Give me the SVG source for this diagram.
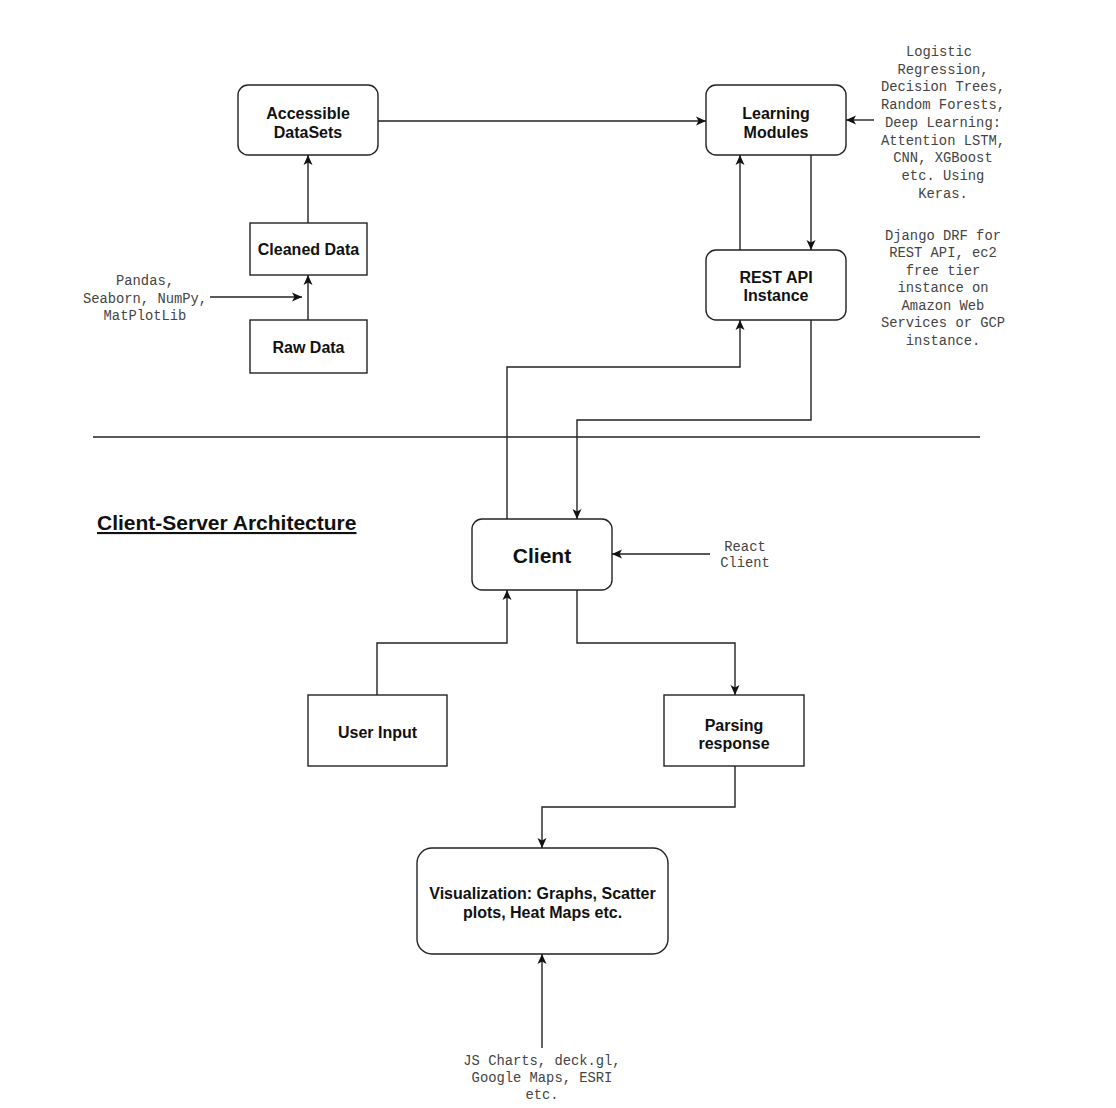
<svg xmlns="http://www.w3.org/2000/svg" width="1116" height="1108" viewBox="0 0 1116 1108">
<style>
.box{fill:#fff;stroke:#222;stroke-width:1.4}
.lbl{font-family:"Liberation Sans",Arial,sans-serif;font-weight:bold;font-size:16px;fill:#111;text-anchor:middle}
.mono{font-family:"Liberation Mono","Courier New",monospace;font-size:13.8px;fill:#444;text-anchor:middle}
.edge{fill:none;stroke:#222;stroke-width:1.4}
</style>
<defs>
<marker id="arr" viewBox="0 0 12 12" refX="11" refY="6" markerWidth="12" markerHeight="12" markerUnits="userSpaceOnUse" orient="auto">
<path d="M1,1.5 L11,6 L1,10.5 L3.5,6 z" fill="#111"/>
</marker>
</defs>
<rect width="1116" height="1108" fill="#fff"/>

<g id="accessible">
<rect class="box" x="238" y="85" width="140" height="70" rx="10"/>
<text class="lbl" x="308" y="119">Accessible</text>
<text class="lbl" x="308" y="138">DataSets</text>
</g>
<g id="cleaned">
<rect class="box" x="250" y="223" width="117" height="52"/>
<text class="lbl" x="308.5" y="255">Cleaned Data</text>
</g>
<g id="raw">
<rect class="box" x="250" y="320" width="117" height="53"/>
<text class="lbl" x="308.5" y="353">Raw Data</text>
</g>
<g id="pandas">
<text class="mono" x="145" y="285">Pandas,</text>
<text class="mono" x="145" y="302.6">Seaborn, NumPy,</text>
<text class="mono" x="145" y="320.2">MatPlotLib</text>
</g>
<g id="learning">
<rect class="box" x="706" y="85" width="140" height="70" rx="10"/>
<text class="lbl" x="776" y="119">Learning</text>
<text class="lbl" x="776" y="138">Modules</text>
</g>
<g id="models">
<text class="mono" x="939" y="56">Logistic</text>
<text class="mono" x="943" y="73.7">Regression,</text>
<text class="mono" x="943" y="91.4">Decision Trees,</text>
<text class="mono" x="943" y="109.1">Random Forests,</text>
<text class="mono" x="943" y="126.8">Deep Learning:</text>
<text class="mono" x="943" y="144.5">Attention LSTM,</text>
<text class="mono" x="943" y="162.2">CNN, XGBoost</text>
<text class="mono" x="943" y="179.9">etc. Using</text>
<text class="mono" x="943" y="197.6">Keras.</text>
</g>
<g id="restapi">
<rect class="box" x="706" y="250" width="140" height="70" rx="10"/>
<text class="lbl" x="776" y="283">REST API</text>
<text class="lbl" x="776" y="301">Instance</text>
</g>
<g id="django">
<text class="mono" x="943" y="239.5">Django DRF for</text>
<text class="mono" x="943" y="257">REST API, ec2</text>
<text class="mono" x="943" y="274.5">free tier</text>
<text class="mono" x="943" y="292">instance on</text>
<text class="mono" x="943" y="309.5">Amazon Web</text>
<text class="mono" x="943" y="327">Services or GCP</text>
<text class="mono" x="943" y="344.5">instance.</text>
</g>
<g id="title">
<text x="97" y="530" font-family="Liberation Sans,Arial,sans-serif" font-weight="bold" font-size="21" fill="#111" text-decoration="underline">Client-Server Architecture</text>
</g>
<g id="client">
<rect class="box" x="472" y="519" width="140" height="71" rx="10"/>
<text class="lbl" x="542" y="562.5" style="font-size:21px">Client</text>
</g>
<g id="react">
<text class="mono" x="745" y="551">React</text>
<text class="mono" x="745" y="567">Client</text>
</g>
<g id="userinput">
<rect class="box" x="308" y="695" width="139" height="71"/>
<text class="lbl" x="377.5" y="738">User Input</text>
</g>
<g id="parsing">
<rect class="box" x="664" y="695" width="140" height="71"/>
<text class="lbl" x="734" y="731">Parsing</text>
<text class="lbl" x="734" y="749">response</text>
</g>
<g id="visualization">
<rect class="box" x="417" y="848" width="251" height="106" rx="15"/>
<text class="lbl" x="542.5" y="899">Visualization: Graphs, Scatter</text>
<text class="lbl" x="542.5" y="918">plots, Heat Maps etc.</text>
</g>
<g id="jscharts">
<text class="mono" x="542" y="1065">JS Charts, deck.gl,</text>
<text class="mono" x="542" y="1082">Google Maps, ESRI</text>
<text class="mono" x="542" y="1099">etc.</text>
</g>

<g id="connectors">
<path class="edge" d="M378,121 H706" marker-end="url(#arr)"/>
<path class="edge" d="M874,120 H846" marker-end="url(#arr)"/>
<path class="edge" d="M308,223 V155" marker-end="url(#arr)"/>
<path class="edge" d="M308,320 V275" marker-end="url(#arr)"/>
<path class="edge" d="M210,297 H302" marker-end="url(#arr)"/>
<path class="edge" d="M740,250 V155" marker-end="url(#arr)"/>
<path class="edge" d="M811,155 V250" marker-end="url(#arr)"/>
<path class="edge" d="M507,519 V367 H740 V320" marker-end="url(#arr)"/>
<path class="edge" d="M811,320 V420 H577 V519" marker-end="url(#arr)"/>
<path class="edge" d="M710,554 H612" marker-end="url(#arr)"/>
<path class="edge" d="M377,695 V643 H507 V590" marker-end="url(#arr)"/>
<path class="edge" d="M577,590 V643 H735 V695" marker-end="url(#arr)"/>
<path class="edge" d="M735,766 V807 H542 V848" marker-end="url(#arr)"/>
<path class="edge" d="M542,1048 V954" marker-end="url(#arr)"/>
<path class="edge" d="M93,437 H980"/>
</g>
</svg>
